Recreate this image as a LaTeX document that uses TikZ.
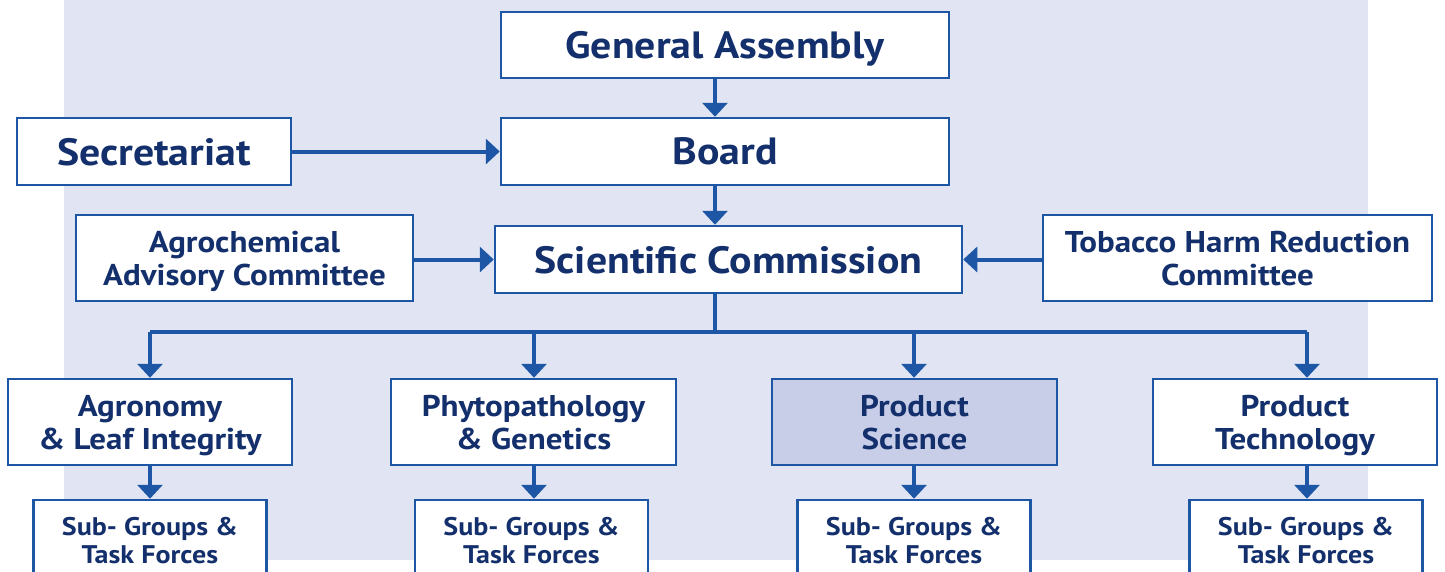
\documentclass[tikz,border=0pt]{standalone}
\usepackage{fontspec}
\setmainfont{PT Sans}[FakeStretch=1.1]
\usetikzlibrary{arrows.meta,positioning}
\definecolor{navy}{HTML}{14306C}
\definecolor{edgeblue}{HTML}{1D56A5}
\definecolor{panel}{HTML}{E1E5F3}
\definecolor{highlight}{HTML}{C8CEE8}
\begin{document}
\begin{tikzpicture}[x=1pt,y=-1pt,
  box/.style={draw=edgeblue,line width=2.5pt,fill=white,inner sep=0pt,
    text=navy,font=\bfseries,align=center,text depth=0pt},
  big/.style={box,font=\fontsize{38}{42}\selectfont\bfseries},
  mid/.style={box,font=\fontsize{30}{33}\selectfont\bfseries},
  small/.style={box,font=\fontsize{25.5}{28}\selectfont\bfseries},
  link/.style={draw=edgeblue,line width=4pt},
  arr/.style={link,-{Triangle[width=25pt,length=14pt]}}]
\useasboundingbox (0,0) rectangle (1445,571);
% shaded panel behind the chart
\fill[panel] (64,0) rectangle (1368,560);

% top of the hierarchy
\node[big,minimum width=448pt,minimum height=66pt] (ga) at (725,45) {General Assembly};
\node[big,minimum width=448pt,minimum height=67pt] (board) at (725,151.5) {Board};
\node[big,minimum width=274pt,minimum height=67pt] (sec) at (154,151.5) {Secretariat};
\node[big,minimum width=467pt,minimum height=67pt] (sc) at (728.5,259.5) {Scientific Commission};
\node[mid,minimum width=337pt,minimum height=86pt] (agro) at (244.5,258) {Agrochemical\\Advisory Committee};
\node[mid,minimum width=389pt,minimum height=86pt] (thr) at (1237.5,258) {Tobacco Harm Reduction\\Committee};

% study groups
\node[mid,minimum width=284pt,minimum height=86pt] (agr) at (150,422) {Agronomy\\\& Leaf Integrity};
\node[mid,minimum width=285pt,minimum height=86pt] (phy) at (533.5,422) {Phytopathology\\\& Genetics};
\node[mid,minimum width=285pt,minimum height=86pt,fill=highlight] (ps) at (914.5,422) {Product\\Science};
\node[mid,minimum width=284pt,minimum height=86pt] (pt) at (1295,422) {Product\\Technology};

% sub-groups
\node[small,minimum width=233pt,minimum height=80pt] (sagr) at (150,540) {Sub- Groups \&\\Task Forces};
\node[small,minimum width=233pt,minimum height=80pt] (sphy) at (531.5,540) {Sub- Groups \&\\Task Forces};
\node[small,minimum width=233pt,minimum height=80pt] (sps) at (914,540) {Sub- Groups \&\\Task Forces};
\node[small,minimum width=233pt,minimum height=80pt] (spt) at (1306,540) {Sub- Groups \&\\Task Forces};

% connector guide coordinates
\coordinate (trunk) at (715,0);
\coordinate (bus) at (0,332);
\coordinate (c1) at (150,0);
\coordinate (c2) at (534,0);
\coordinate (c3) at (914,0);
\coordinate (c4) at (1307,0);

\draw[arr] (ga.south -| trunk) -- (board.north -| trunk);
\draw[arr] (board.south -| trunk) -- (sc.north -| trunk);
\draw[arr] (sec.east) -- (board.west);
\draw[arr] (agro.east |- sc.west) -- (sc.west);
\draw[arr] (thr.west |- sc.east) -- (sc.east);

\draw[link] (sc.south -| trunk) -- (bus -| trunk);
\draw[link] (bus -| c1) -- (bus -| c4);
\draw[arr] (bus -| c1) -- (agr.north -| c1);
\draw[arr] (bus -| c2) -- (phy.north -| c2);
\draw[arr] (bus -| c3) -- (ps.north -| c3);
\draw[arr] (bus -| c4) -- (pt.north -| c4);

\draw[arr] (agr.south -| c1) -- (sagr.north -| c1);
\draw[arr] (phy.south -| c2) -- (sphy.north -| c2);
\draw[arr] (ps.south -| c3) -- (sps.north -| c3);
\draw[arr] (pt.south -| c4) -- (spt.north -| c4);
\end{tikzpicture}
\end{document}
